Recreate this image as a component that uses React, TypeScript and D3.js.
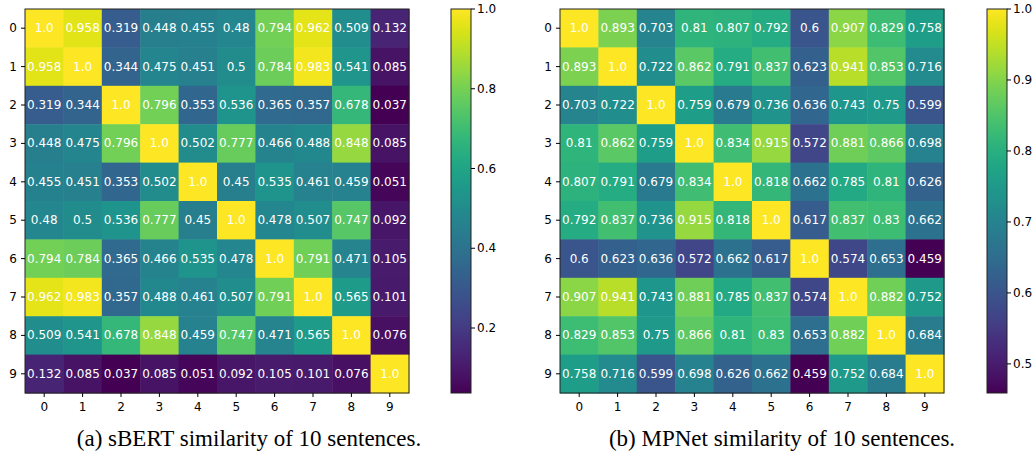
import React from "react";
import * as d3 from "d3";

const labels = ["0", "1", "2", "3", "4", "5", "6", "7", "8", "9"];

const sbertRows = [
  [1.0, 0.958, 0.319, 0.448, 0.455, 0.48, 0.794, 0.962, 0.509, 0.132],
  [0.958, 1.0, 0.344, 0.475, 0.451, 0.5, 0.784, 0.983, 0.541, 0.085],
  [0.319, 0.344, 1.0, 0.796, 0.353, 0.536, 0.365, 0.357, 0.678, 0.037],
  [0.448, 0.475, 0.796, 1.0, 0.502, 0.777, 0.466, 0.488, 0.848, 0.085],
  [0.455, 0.451, 0.353, 0.502, 1.0, 0.45, 0.535, 0.461, 0.459, 0.051],
  [0.48, 0.5, 0.536, 0.777, 0.45, 1.0, 0.478, 0.507, 0.747, 0.092],
  [0.794, 0.784, 0.365, 0.466, 0.535, 0.478, 1.0, 0.791, 0.471, 0.105],
  [0.962, 0.983, 0.357, 0.488, 0.461, 0.507, 0.791, 1.0, 0.565, 0.101],
  [0.509, 0.541, 0.678, 0.848, 0.459, 0.747, 0.471, 0.565, 1.0, 0.076],
  [0.132, 0.085, 0.037, 0.085, 0.051, 0.092, 0.105, 0.101, 0.076, 1.0],
];

const mpnetRows = [
  [1.0, 0.893, 0.703, 0.81, 0.807, 0.792, 0.6, 0.907, 0.829, 0.758],
  [0.893, 1.0, 0.722, 0.862, 0.791, 0.837, 0.623, 0.941, 0.853, 0.716],
  [0.703, 0.722, 1.0, 0.759, 0.679, 0.736, 0.636, 0.743, 0.75, 0.599],
  [0.81, 0.862, 0.759, 1.0, 0.834, 0.915, 0.572, 0.881, 0.866, 0.698],
  [0.807, 0.791, 0.679, 0.834, 1.0, 0.818, 0.662, 0.785, 0.81, 0.626],
  [0.792, 0.837, 0.736, 0.915, 0.818, 1.0, 0.617, 0.837, 0.83, 0.662],
  [0.6, 0.623, 0.636, 0.572, 0.662, 0.617, 1.0, 0.574, 0.653, 0.459],
  [0.907, 0.941, 0.743, 0.881, 0.785, 0.837, 0.574, 1.0, 0.882, 0.752],
  [0.829, 0.853, 0.75, 0.866, 0.81, 0.83, 0.653, 0.882, 1.0, 0.684],
  [0.758, 0.716, 0.599, 0.698, 0.626, 0.662, 0.459, 0.752, 0.684, 1.0],
];

const sbertTicks = [0.2, 0.4, 0.6, 0.8, 1.0];
const mpnetTicks = [0.5, 0.6, 0.7, 0.8, 0.9, 1.0];

const sbertCaption = "(a) sBERT similarity of 10 sentences.";
const mpnetCaption = "(b) MPNet similarity of 10 sentences.";

const W = 1036;
const H = 454;
const top = 9;
const size = 384;
const sans = "'DejaVu Sans', sans-serif";
const serif = "'Liberation Serif', 'DejaVu Serif', 'Times New Roman', Times, serif";

// value label like matplotlib prints it ("1.0", "0.48")
const fmt = (v: number) => (Number.isInteger(v) ? v.toFixed(1) : String(v));

type Props = {
  id: string;
  rows: number[][];
  left: number;
  barLeft: number;
  ticks: number[];
  caption: string;
  captionX: number;
};

function Heatmap({ id, rows, left, barLeft, ticks, caption, captionX }: Props) {
  const flat = rows.flat();
  const lo = d3.min(flat) as number;
  const hi = d3.max(flat) as number;
  const color = d3.scaleSequential(d3.interpolateViridis).domain([lo, hi]);

  const x = d3.scaleBand<string>().domain(labels).range([left, left + size]);
  const y = d3.scaleBand<string>().domain(labels).range([top, top + size]);
  const bw = x.bandwidth();

  const barW = 20;
  const yBar = d3.scaleLinear().domain([lo, hi]).range([top + size, top]);
  const stops = d3.range(0, 1.0001, 0.02);

  return (
    <g>
      <defs>
        <linearGradient id={id} x1="0" y1="1" x2="0" y2="0">
          {stops.map((t) => (
            <stop key={t} offset={t} stopColor={d3.interpolateViridis(t)} />
          ))}
        </linearGradient>
      </defs>

      {rows.map((row, i) =>
        row.map((v, j) => (
          <g key={i + "-" + j}>
            <rect
              x={x(labels[j])}
              y={y(labels[i])}
              width={bw + 0.5}
              height={bw + 0.5}
              fill={color(v)}
            />
            <text
              x={(x(labels[j]) as number) + bw / 2}
              y={(y(labels[i]) as number) + bw / 2}
              textAnchor="middle"
              dominantBaseline="central"
              fill="white"
              fontFamily={sans}
              fontSize={12}
            >
              {fmt(v)}
            </text>
          </g>
        ))
      )}
      <rect x={left} y={top} width={size} height={size} fill="none" stroke="#222" strokeWidth={1} />

      {labels.map((l) => (
        <g key={"x" + l}>
          <line
            x1={(x(l) as number) + bw / 2}
            x2={(x(l) as number) + bw / 2}
            y1={top + size}
            y2={top + size + 4}
            stroke="black"
          />
          <text
            x={(x(l) as number) + bw / 2}
            y={top + size + 14}
            textAnchor="middle"
            dominantBaseline="central"
            fontFamily={sans}
            fontSize={12}
          >
            {l}
          </text>
          <line
            x1={left - 4}
            x2={left}
            y1={(y(l) as number) + bw / 2}
            y2={(y(l) as number) + bw / 2}
            stroke="black"
          />
          <text
            x={left - 8}
            y={(y(l) as number) + bw / 2}
            textAnchor="end"
            dominantBaseline="central"
            fontFamily={sans}
            fontSize={12}
          >
            {l}
          </text>
        </g>
      ))}

      <rect x={barLeft} y={top} width={barW} height={size} fill={`url(#${id})`} stroke="#222" strokeWidth={1} />
      {ticks.map((t) => (
        <g key={"c" + t}>
          <line x1={barLeft + barW} x2={barLeft + barW + 4} y1={yBar(t)} y2={yBar(t)} stroke="black" />
          <text
            x={barLeft + barW + 6}
            y={yBar(t)}
            dominantBaseline="central"
            fontFamily={sans}
            fontSize={12}
          >
            {t.toFixed(1)}
          </text>
        </g>
      ))}

      <text
        x={captionX}
        y={446}
        textAnchor="middle"
        fontFamily={serif}
        fontSize={23}
      >
        {caption}
      </text>
    </g>
  );
}

export default function App() {
  return (
    <div style={{ position: "absolute", left: 0, top: 0 }}>
      <svg width={W} height={H} style={{ display: "block", background: "white" }}>
        <Heatmap
          id="vir-a"
          rows={sbertRows}
          left={25}
          barLeft={451}
          ticks={sbertTicks}
          caption={sbertCaption}
          captionX={249}
        />
        <Heatmap
          id="vir-b"
          rows={mpnetRows}
          left={560}
          barLeft={987}
          ticks={mpnetTicks}
          caption={mpnetCaption}
          captionX={782}
        />
      </svg>
    </div>
  );
}
